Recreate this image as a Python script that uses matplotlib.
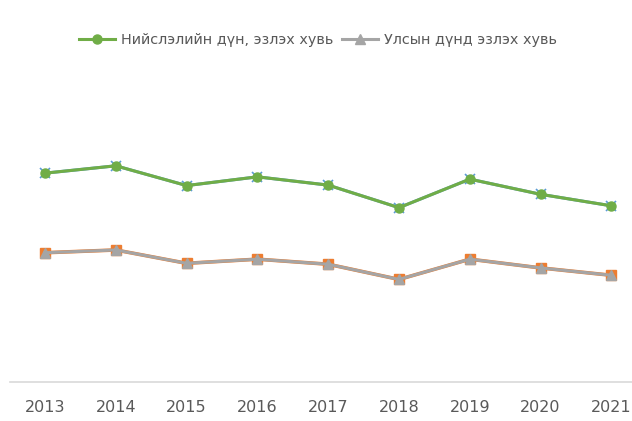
import numpy as np
import matplotlib

matplotlib.use("Agg")
import matplotlib.pyplot as plt

plt.rcParams["font.family"] = ["DejaVu Sans"]

# years on the category axis
years = ["2013", "2014", "2015", "2016", "2017", "2018", "2019", "2020", "2021"]

# capital share (upper, green) and national share (lower, gray)
capital_share = [45.4, 47.0, 42.7, 44.6, 42.8, 37.9, 44.1, 40.8, 38.3]
national_share = [28.1, 28.7, 25.8, 26.7, 25.6, 22.3, 26.7, 24.8, 23.2]

label_capital = "Нийслэлийн дүн, эзлэх хувь"
label_national = "Улсын дүнд эзлэх хувь"

W, H = 632, 421
fig = plt.figure(figsize=(W / 100, H / 100), dpi=100)

# plot area: first category at x=45px, spacing ~70.8px, baseline at y=382px
step = 70.8
left_px = 45 - step / 2
right_px = left_px + step * len(years)
ax = fig.add_axes([left_px / W, (H - 382) / H, (right_px - left_px) / W, (382 - 60) / H])

x = np.arange(len(years))

# hidden series sitting under the visible ones (only their marker edges peek out)
ax.plot(x, capital_share, color="#5b9bd5", lw=2.2, marker="x", ms=7, mew=1.2, zorder=2)
ax.plot(x, national_share, color="#ed7d31", lw=2.6, marker="s", ms=6.5, zorder=2)

ax.plot(x, capital_share, color="#70ad47", lw=2.2, marker="o", ms=6.5,
        label=label_capital, zorder=3)
ax.plot(x, national_share, color="#a5a5a5", lw=2.2, marker="^", ms=7,
        label=label_national, zorder=3)

ax.set_xlim(-0.5, len(years) - 0.5)
ax.set_ylim(0, 70)
ax.set_xticks(x)
ax.set_xticklabels(years, fontsize=11.5, color="#595959")
ax.tick_params(axis="x", length=0, pad=13)
ax.set_yticks([])

for side in ["top", "right", "left"]:
    ax.spines[side].set_visible(False)
ax.spines["bottom"].set_color("#d9d9d9")
ax.spines["bottom"].set_linewidth(1.2)

handles, labels = ax.get_legend_handles_labels()
fig.legend(handles, labels, loc="center", bbox_to_anchor=(318 / W, (H - 40) / H),
           ncol=2, frameon=False, fontsize=10.4, labelcolor="#595959",
           handlelength=2.5, handletextpad=0.42, columnspacing=0.55)

fig.savefig("out.png", dpi=100)
plt.close()
